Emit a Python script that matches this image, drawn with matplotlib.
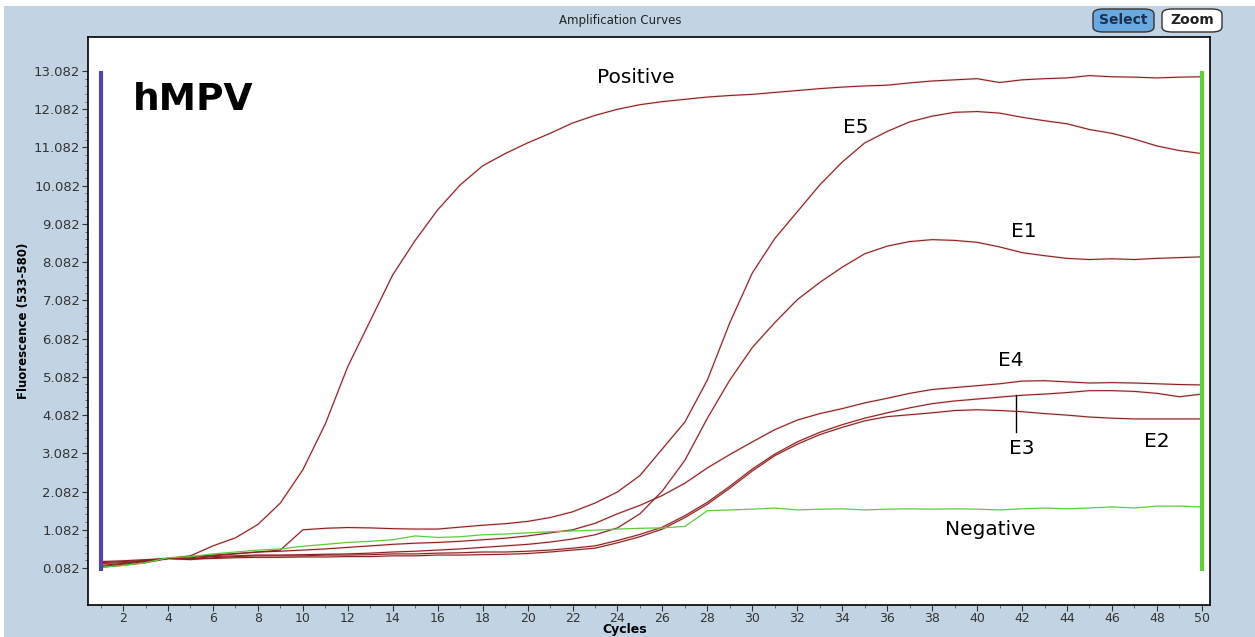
import numpy as np
import matplotlib
matplotlib.use("Agg")
import matplotlib.pyplot as plt
from matplotlib.patches import Rectangle, FancyBboxPatch

cycles = list(range(1, 51))

positive = [0.22, 0.25, 0.28, 0.33, 0.40, 0.66, 0.87, 1.22, 1.78, 2.65, 3.85, 5.35, 6.55, 7.75, 8.65, 9.45, 10.1, 10.6, 10.92, 11.2,
            11.45, 11.72, 11.92, 12.08, 12.2, 12.28, 12.34, 12.4, 12.44, 12.47, 12.52, 12.57, 12.62, 12.66, 12.69, 12.71, 12.77, 12.82, 12.85, 12.88,
            12.78, 12.85, 12.88, 12.9, 12.96, 12.93, 12.92, 12.9, 12.92, 12.93]
e5 = [0.15, 0.2, 0.27, 0.33, 0.35, 0.4, 0.45, 0.5, 0.55, 1.08, 1.12, 1.14, 1.13, 1.11, 1.1, 1.1, 1.15, 1.2, 1.24, 1.3,
      1.4, 1.55, 1.78, 2.07, 2.5, 3.2, 3.9, 5.0, 6.5, 7.8, 8.7, 9.4, 10.1, 10.7, 11.2, 11.5, 11.75, 11.9, 12.0, 12.02,
      11.98, 11.87, 11.78, 11.7, 11.55, 11.45, 11.3, 11.12, 11.0, 10.92]
e1 = [0.2, 0.22, 0.27, 0.33, 0.32, 0.38, 0.4, 0.42, 0.42, 0.43, 0.44, 0.45, 0.47, 0.5, 0.52, 0.55, 0.58, 0.62, 0.66, 0.7,
      0.76, 0.84, 0.95, 1.13, 1.5, 2.1, 2.9, 4.0, 5.0, 5.85, 6.5, 7.1, 7.55, 7.95, 8.3, 8.5, 8.62, 8.67, 8.65, 8.6,
      8.48, 8.33, 8.25, 8.18, 8.15, 8.17, 8.15, 8.18, 8.2, 8.22]
e4 = [0.25, 0.27, 0.3, 0.33, 0.38, 0.42, 0.46, 0.5, 0.52, 0.55, 0.58, 0.62, 0.66, 0.7, 0.73, 0.75, 0.78, 0.82, 0.86, 0.92,
      1.0, 1.08, 1.25, 1.5, 1.72, 1.98, 2.3, 2.7, 3.05, 3.38, 3.7, 3.95, 4.12, 4.25, 4.4, 4.52, 4.65, 4.75, 4.8, 4.85,
      4.9, 4.97, 4.98, 4.95, 4.92, 4.93, 4.92, 4.9, 4.88, 4.87]
e3 = [0.12, 0.18, 0.25, 0.33, 0.3, 0.35, 0.38, 0.4, 0.4, 0.4, 0.42, 0.42, 0.43, 0.45, 0.45, 0.47, 0.48, 0.5, 0.5, 0.52,
      0.55, 0.6, 0.66, 0.8, 0.96, 1.15, 1.45, 1.8, 2.22, 2.67, 3.06, 3.38, 3.63, 3.83, 4.0, 4.14, 4.27, 4.38, 4.45, 4.5,
      4.55, 4.6, 4.63, 4.67, 4.72, 4.72, 4.7, 4.65, 4.56, 4.63]
e2 = [0.1, 0.15, 0.22, 0.33, 0.32, 0.33, 0.35, 0.36, 0.36, 0.37, 0.37, 0.38, 0.38, 0.4, 0.4, 0.42, 0.42, 0.43, 0.44, 0.46,
      0.5, 0.55, 0.6, 0.74, 0.9, 1.1, 1.4, 1.75, 2.17, 2.62, 3.02, 3.32, 3.57, 3.76, 3.93, 4.04, 4.09, 4.14, 4.2, 4.22,
      4.2, 4.17, 4.12, 4.08, 4.03, 4.0, 3.98, 3.98, 3.98, 3.98]
negative = [0.1, 0.15, 0.22, 0.35, 0.38, 0.45, 0.5, 0.55, 0.58, 0.65, 0.7, 0.75, 0.78, 0.82, 0.92, 0.88, 0.9, 0.95, 0.97, 1.0,
            1.03, 1.05, 1.07, 1.1, 1.12, 1.13, 1.17, 1.58, 1.6, 1.62, 1.65, 1.6, 1.62, 1.63, 1.6, 1.62, 1.63, 1.62, 1.63, 1.62,
            1.6, 1.63, 1.65, 1.63, 1.65, 1.68, 1.65, 1.7, 1.7, 1.68]

y_ticks = [0.082 + i for i in range(14)]
y_labels = ["%.3f" % v for v in y_ticks]
x_ticks = list(range(2, 51, 2))

annotations = [("Positive", 24.8, 12.9), ("E5", 34.6, 11.6), ("E1", 42.1, 8.88), ("E4", 41.5, 5.5),
               ("E3", 42.0, 3.22), ("E2", 48.0, 3.38), ("Negative", 40.6, 1.08)]

BG = "#c2d4e4"
fig = plt.figure(figsize=(12.55, 6.37), dpi=100, facecolor="white")
fig.patches.append(Rectangle((0.003, 0), 0.997, 0.99, transform=fig.transFigure, facecolor=BG, edgecolor="none", zorder=-10))

ax = fig.add_axes([0.0701, 0.0502, 0.8940, 0.8917])
ax.set_facecolor("white")
ax.set_xlim(0.44, 50.36)
ax.set_ylim(-0.887, 13.97)

red = "#8b2020"
for s in [positive, e5, e1, e4, e3, e2]:
    ax.plot(cycles, s, color="#e8b0b0", lw=1.8, alpha=0.35, zorder=2, solid_joinstyle="round")
    ax.plot(cycles, s, color=red, lw=0.8, zorder=3)
ax.plot(cycles, negative, color="#5ccc3c", lw=0.9, zorder=3)

ax.plot([1, 1], [0.0, 13.082], color="#5544aa", lw=3, solid_capstyle="butt", zorder=4)
ax.plot([50, 50], [0.0, 13.082], color="#66cc44", lw=3, solid_capstyle="butt", zorder=4)

ax.text(2.45, 12.33, "hMPV", fontsize=27, fontweight="bold", ha="left", va="center", family="DejaVu Sans")
for txt, x, y in annotations:
    ax.text(x, y, txt, fontsize=14.5, ha="center", va="center", family="DejaVu Sans")
ax.plot([41.75, 41.75], [3.64, 4.6], color="black", lw=1)

ax.set_yticks(y_ticks)
ax.set_yticklabels(y_labels)
ax.set_yticks([0.082 + i * 0.2 for i in range(66)], minor=True)
ax.set_xticks(x_ticks)
ax.set_xticks(range(1, 51), minor=True)
ax.tick_params(axis="both", which="major", labelsize=9.5, labelcolor="#333333", length=4, width=0.8, color="#333333", pad=1.5)
ax.tick_params(axis="x", which="major", labelsize=9, pad=1)
ax.tick_params(axis="both", which="minor", length=2.5, width=0.6, color="#555555")
for sp in ax.spines.values():
    sp.set_color("black")
    sp.set_linewidth(1.2)

ax.set_xlabel("Cycles", fontsize=9, fontweight="bold")
ax.xaxis.set_label_coords(0.4785, -0.031)
ax.set_ylabel("Fluorescence (533-580)", fontsize=8.5, fontweight="bold")
ax.yaxis.set_label_coords(-0.052, 0.5)

fig.text(0.494, 0.968, "Amplification Curves", fontsize=8.5, ha="center", va="center", color="#222222")

fig.patches.append(FancyBboxPatch((1093 / 1255, 1 - 32 / 637), 61 / 1255, 23 / 637, boxstyle="round,pad=0,rounding_size=0.008",
                                  transform=fig.transFigure, facecolor="#6aa8e0", edgecolor="#333333", lw=1))
fig.patches.append(FancyBboxPatch((1162 / 1255, 1 - 32 / 637), 60 / 1255, 23 / 637, boxstyle="round,pad=0,rounding_size=0.008",
                                  transform=fig.transFigure, facecolor="white", edgecolor="#333333", lw=1))
fig.text(1123.5 / 1255, 1 - 20.5 / 637, "Select", fontsize=10, fontweight="bold", ha="center", va="center", color="#1a3050")
fig.text(1192 / 1255, 1 - 20.5 / 637, "Zoom", fontsize=10, fontweight="bold", ha="center", va="center", color="#222222")

fig.savefig("out.png", dpi=100, facecolor=fig.get_facecolor())
